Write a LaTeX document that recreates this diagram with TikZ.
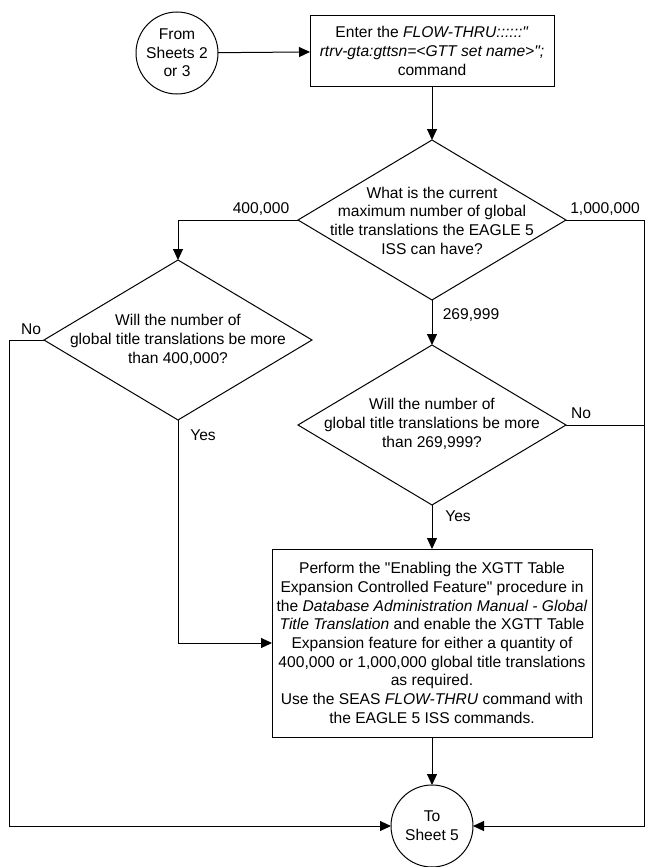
\documentclass[tikz,border=0pt]{standalone}
\usepackage{fontspec}
\setmainfont{Liberation Sans}
\usetikzlibrary{shapes.geometric,arrows.meta}
\begin{document}
\begin{tikzpicture}[x=1pt,y=-1pt,
  every node/.style={font=\fontsize{15.6}{18.7}\selectfont, inner sep=0pt, outer sep=0pt},
  conn/.style={draw=black, line width=1pt},
  arr/.style={conn, -{Triangle[length=11pt,width=10pt]}},
  circ/.style={circle, draw, line width=1pt, minimum size=82pt, align=center},
  procbox/.style={rectangle, draw, line width=1pt, align=center},
  dia/.style={diamond, draw, line width=1pt, minimum width=268pt, minimum height=160pt},
  txt/.style={align=center},
  lbl/.style={}]
\useasboundingbox (0,0) rectangle (645,867);
% nodes
\node[circ] (start) at (177,53) {From\\Sheets 2\\or 3};
\node[procbox, minimum width=244pt, minimum height=70pt] (box1) at (432,51)
  {Enter the \textit{FLOW-THRU::::::\textquotedbl}\\ \textit{rtrv-gta:gttsn=<GTT set name>\textquotedbl;}\\ command};
\node[dia] (d1) at (432,220) {};
\node[txt] (d1t) at (432,220.5) {What is the current\\maximum number of global\\title translations the EAGLE 5\\ISS can have?};
\node[dia] (d2) at (178,340) {};
\node[txt] (d2t) at (178,340) {Will the number of\\global title translations be more\\than 400,000?};
\node[dia] (d3) at (432,425) {};
\node[txt] (d3t) at (432,424) {Will the number of\\global title translations be more\\than 269,999?};
\node[procbox, minimum width=320pt, minimum height=188pt] (box2) at (432,643)
  {Perform the \textquotedbl Enabling the XGTT Table\\
   Expansion Controlled Feature\textquotedbl{} procedure in\\
   the \textit{Database Administration Manual - Global}\\
   \textit{Title Translation} and enable the XGTT Table\\
   Expansion feature for either a quantity of\\
   400,000 or 1,000,000 global title translations\\
   as required.\\
   Use the SEAS \textit{FLOW-THRU} command with\\
   the EAGLE 5 ISS commands.};
\node[circ] (endc) at (432,826) {To\\Sheet 5};
% labels
\node[lbl] (l400) at (261,209) {400,000};
\node[lbl] (l1m) at (605,209) {1,000,000};
\node[lbl] (l269) at (471,315) {269,999};
\node[lbl] (lno2) at (31,329) {No};
\node[lbl] (lyes2) at (203,435) {Yes};
\node[lbl] (lno3) at (581,413) {No};
\node[lbl] (lyes3) at (458,516) {Yes};
% corner coordinates
\coordinate (rb) at (644,826);
\coordinate (lb) at (9,826);
% connectors
\draw[arr] (start) -- (box1);
\draw[arr] (box1) -- (d1.north);
\draw[arr] (d1.west) -| (d2.north);
\draw[arr] (d1.south) -- (d3.north);
\draw[arr] (d1.east) -| (rb) -- (endc.east);
\draw[conn] (d3.east) -- (d3.east -| rb);
\draw[arr] (d3.south) -- (box2.north);
\draw[arr] (d2.west) -| (lb) -- (endc.west);
\draw[arr] (d2.south) |- (box2.west);
\draw[arr] (box2.south) -- (endc.north);
\end{tikzpicture}
\end{document}
